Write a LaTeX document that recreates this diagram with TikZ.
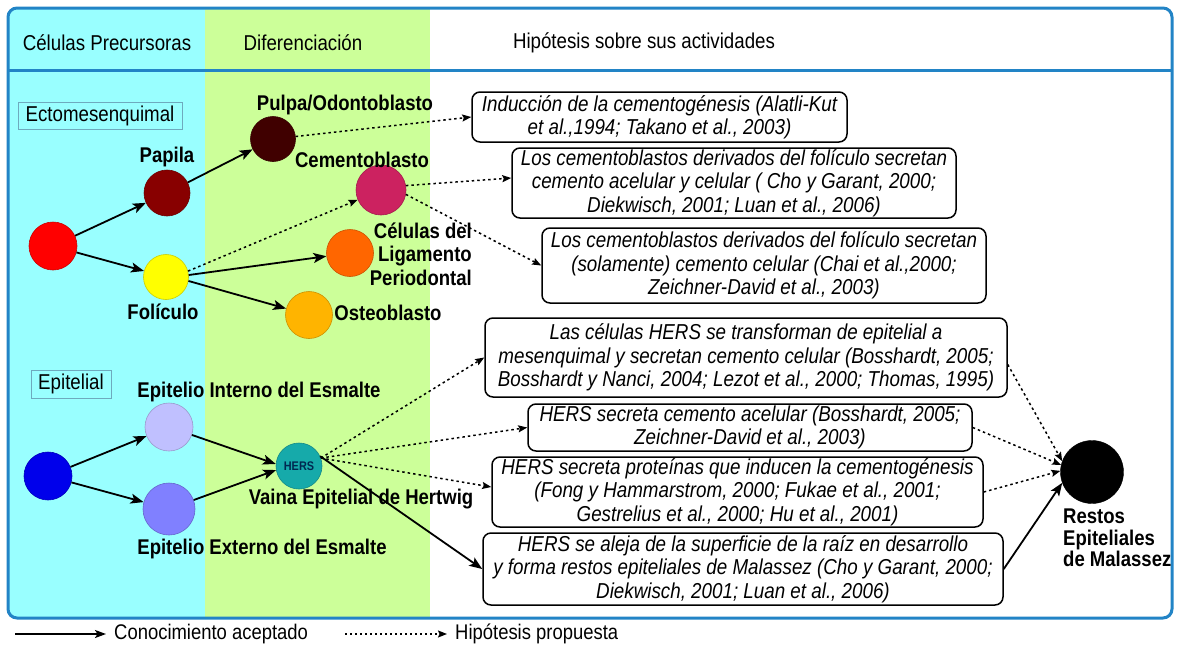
\documentclass[tikz,border=0pt]{standalone}
\usepackage{fontspec}
\setmainfont{Liberation Sans}[FakeStretch=0.87]
\usetikzlibrary{arrows.meta}
\definecolor{framecol}{RGB}{34,132,198}
\definecolor{cyanbg}{RGB}{153,255,255}
\definecolor{greenbg}{RGB}{204,255,153}
\definecolor{cred}{RGB}{255,0,0}
\definecolor{cpapila}{RGB}{136,0,0}
\definecolor{cpulpa}{RGB}{64,0,0}
\definecolor{ccemento}{RGB}{204,34,96}
\definecolor{cligam}{RGB}{255,102,0}
\definecolor{costeo}{RGB}{255,180,0}
\definecolor{cyellow}{RGB}{255,255,0}
\definecolor{cblue}{RGB}{0,0,235}
\definecolor{clav}{RGB}{192,192,255}
\definecolor{cviol}{RGB}{128,128,255}
\definecolor{cteal}{RGB}{22,170,170}
\definecolor{hersTxt}{RGB}{0,40,80}
\definecolor{tagbox}{RGB}{110,170,190}
\begin{document}
\begin{tikzpicture}[x=1pt,y=-1pt,
  circ/.style={circle,draw=#1!80!black,fill=#1,line width=0.6pt,inner sep=0pt},
  lab/.style={font=\bfseries\fontsize{21.3}{23.5}\selectfont,inner sep=0pt},
  hdr/.style={font=\fontsize{21.5}{22}\selectfont,inner sep=0pt},
  tag/.style={draw=tagbox,line width=0.6pt,font=\fontsize{21.5}{22}\selectfont,inner sep=0pt},
  hyp/.style={draw=black,line width=1.5pt,rounded corners=8pt,align=center,
     font=\itshape\fontsize{21.6}{23.3}\selectfont,inner sep=0pt},
  acc/.style={line width=1.8pt,-{Stealth[length=13pt,width=10pt,inset=3pt]}},
  hyparr/.style={line width=1.5pt,dash pattern=on 2.5pt off 3pt,-{Stealth[length=9pt,width=7pt,inset=1.5pt]}},
  leg/.style={font=\fontsize{21.2}{22}\selectfont,inner sep=0pt,anchor=west}
]
\useasboundingbox (0,0) rectangle (1178,646);
% backgrounds
\begin{scope}
\clip[rounded corners=9pt] (8,8) rectangle (1172,618);
\fill[white] (0,0) rectangle (1178,646);
\fill[cyanbg] (0,0) rectangle (205,646);
\fill[greenbg] (205,0) rectangle (430,646);
\end{scope}
\draw[framecol,line width=3pt,rounded corners=9pt] (8,8) rectangle (1172,618);
\draw[framecol,line width=3pt] (8,70) -- (1172,70);
% headers
\node[hdr] (h1) at (107,43) {Células Precursoras};
\node[hdr] (h2) at (303,43) {Diferenciación};
\node[hdr] (h3) at (644,43) {Hipótesis sobre sus actividades};
% tags
\node[tag,minimum width=164pt,minimum height=27pt] (tecto) at (100,116) {Ectomesenquimal};
\node[tag,minimum width=80pt,minimum height=28pt] (tepi) at (71,384) {Epitelial};
% ectomesenchymal circles
\node[circ=cred,minimum size=48pt] (red) at (53,246) {};
\node[circ=cpapila,minimum size=46pt] (papila) at (167,193) {};
\node[circ=cyellow,minimum size=45pt] (foli) at (166,277) {};
\node[circ=cpulpa,minimum size=45pt] (pulpa) at (273,139) {};
\node[circ=ccemento,minimum size=50pt] (cem) at (381,190) {};
\node[circ=cligam,minimum size=47pt] (ligam) at (350,253) {};
\node[circ=costeo,minimum size=47pt] (osteo) at (309,315) {};
% labels
\node[lab] (lpapila) at (167,157) {Papila};
\node[lab] (lfoli) at (163,312) {Folículo};
\node[lab] (lpulpa) at (345,105) {Pulpa/Odontoblasto};
\node[lab] (lcem) at (362,160) {Cementoblasto};
\node[lab,align=right,anchor=east] (lligam) at (472,254) {Células del\\Ligamento\\Periodontal};
\node[lab] (losteo) at (388,313) {Osteoblasto};
% epithelial circles
\node[circ=cblue,minimum size=48pt] (blue) at (48,476) {};
\node[circ=clav,minimum size=48pt] (lav) at (169,427) {};
\node[circ=cviol,minimum size=52pt] (viol) at (169,509) {};
\node[circ=cteal,minimum size=46pt,font=\bfseries\fontsize{12.5}{13}\selectfont,text=hersTxt] (hers) at (299,466) {HERS};
\node[lab] (llav) at (259,392) {Epitelio Interno del Esmalte};
\node[lab] (lviol) at (262,549) {Epitelio Externo del Esmalte};
\node[lab] (lhers) at (361,499) {Vaina Epitelial de Hertwig};
% restos
\node[circle,fill=black,draw=black,minimum size=63pt,inner sep=0pt] (restos) at (1092,472) {};
\node[lab,align=left,anchor=west,font=\bfseries\fontsize{21.3}{21.5}\selectfont] (lrestos) at (1063,538) {Restos\\Epiteliales\\de Malassez};
% hypothesis boxes
\node[hyp,minimum width=375pt,minimum height=50pt] (b1) at (659.5,117) {Inducción de la cementogénesis (Alatli-Kut\\et al.,1994; Takano et al., 2003)};
\node[hyp,minimum width=444pt,minimum height=70pt] (b2) at (734,183) {Los cementoblastos derivados del folículo secretan\\cemento acelular y celular ( Cho y Garant, 2000;\\Diekwisch, 2001; Luan et al., 2006)};
\node[hyp,minimum width=444pt,minimum height=75pt] (b3) at (764,265.5) {Los cementoblastos derivados del folículo secretan\\(solamente) cemento celular (Chai et al.,2000;\\Zeichner-David et al., 2003)};
\node[hyp,minimum width=522pt,minimum height=79pt] (b4) at (746,357.5) {Las células HERS se transforman de epitelial a\\mesenquimal y secretan cemento celular (Bosshardt, 2005;\\Bosshardt y Nanci, 2004; Lezot et al., 2000; Thomas, 1995)};
\node[hyp,minimum width=444pt,minimum height=47pt] (b5) at (750,427.5) {HERS secreta cemento acelular (Bosshardt, 2005;\\Zeichner-David et al., 2003)};
\node[hyp,minimum width=491pt,minimum height=70pt] (b6) at (737.5,492) {HERS secreta proteínas que inducen la cementogénesis\\(Fong y Hammarstrom, 2000; Fukae et al., 2001;\\Gestrelius et al., 2000; Hu et al., 2001)};
\node[hyp,minimum width=520pt,minimum height=72pt] (b7) at (743,569) {HERS se aleja de la superficie de la raíz en desarrollo\\y forma restos epiteliales de Malassez (Cho y Garant, 2000;\\Diekwisch, 2001; Luan et al., 2006)};
% accepted knowledge
\draw[acc] (red) -- (papila);
\draw[acc] (red) -- (foli);
\draw[acc] (papila) -- (pulpa);
\draw[acc] (foli.5) -- (ligam);
\draw[acc] (foli.-10) -- (osteo);
\draw[acc] (blue) -- (lav);
\draw[acc] (blue) -- (viol);
\draw[acc] (lav) -- (hers.175);
\draw[acc] (viol) -- (hers.190);
\draw[acc] (hers.25) -- (b7.west);
\draw[acc] (b7.east) -- (restos.200);
% hypotheses
\draw[hyparr] (foli.15) -- (cem);
\draw[hyparr] (pulpa) -- (b1.west);
\draw[hyparr] (cem.10) -- ([yshift=5pt]b2.west);
\draw[hyparr] (cem.-10) -- (b3.west);
\draw[hyparr] (hers.20) -- (b4.west);
\draw[hyparr] (hers.20) -- (b5.west);
\draw[hyparr] (hers.20) -- ([yshift=5pt]b6.west);
\draw[hyparr] ([yshift=-7pt]b4.east) -- (restos.160);
\draw[hyparr] (b5.east) -- (restos.167);
\draw[hyparr] (b6.east) -- (restos.178);
% legend
\coordinate (la) at (15,634);
\coordinate (lb) at (106,634);
\coordinate (lc) at (345,634);
\coordinate (ld) at (447,634);
\draw[line width=1.5pt,-{Stealth[length=11pt,width=8pt,inset=2.5pt]}] (la) -- (lb);
\draw[line width=1.3pt,dash pattern=on 2pt off 3pt,-{Stealth[length=9pt,width=7pt,inset=1.5pt]}] (lc) -- (ld);
\node[leg] (lt1) at (114,634) {Conocimiento aceptado};
\node[leg] (lt2) at (455,634) {Hipótesis propuesta};
\end{tikzpicture}
\end{document}
